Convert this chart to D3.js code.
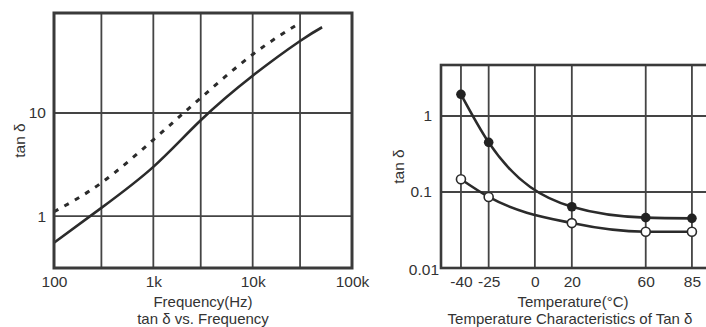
<!DOCTYPE html>
<html>
<head>
<meta charset="utf-8">
<script src="https://cdn.jsdelivr.net/npm/d3@7"></script>
<style>
  body { margin: 0; background: #fff; }
  svg { display: block; font-family: "Liberation Sans", Arial, sans-serif; }
</style>
</head>
<body>
<div id="chart"></div>
<script>
// tan δ vs frequency
const freqTicks = [100, 1000, 10000, 100000];
const freqTickLabels = ["100", "1k", "10k", "100k"];
const freqGrid = [300, 1000, 3000, 10000, 30000];
const tanTicksLeft = [1, 10];
const solidFreq = [100, 300, 1000, 3000, 10000, 30000, 50000];
const solidTan = [0.55, 1.2, 3.0, 8.5, 23, 50, 68];
const dashedFreq = [100, 300, 1000, 3000, 10000, 30000];
const dashedTan = [1.1, 2.1, 5.5, 14, 37, 75];

// tan δ vs temperature
const tempTicks = [-40, -25, 0, 20, 60, 85];
const tanTicksRight = [0.01, 0.1, 1];
const tanGridRight = [0.1, 1];
const temps = [-40, -25, 20, 60, 85];
const filledTan = [1.93, 0.45, 0.064, 0.046, 0.045];
const openTan = [0.147, 0.086, 0.039, 0.030, 0.030];

const W = 706, H = 327;
const ink = "#2b2b2b", textCol = "#333";
const tickSize = "15.5px", labelSize = "15px";

const svg = d3.select("#chart").append("svg")
    .attr("width", W).attr("height", H);
svg.append("rect").attr("width", W).attr("height", H).attr("fill", "#fff");

// ---------- left chart ----------
const L = {left: 54, right: 352, top: 13, bottom: 268};
const xF = d3.scaleLog().domain([100, 100000]).range([L.left, L.right]);
const yF = d3.scaleLog().domain([0.313, 93.5]).range([L.bottom, L.top]);

const gL = svg.append("g");
gL.selectAll("line.vx").data(freqGrid).join("line")
    .attr("x1", d => xF(d)).attr("x2", d => xF(d))
    .attr("y1", L.top).attr("y2", L.bottom)
    .attr("stroke", "#444").attr("stroke-width", 1.8);
gL.selectAll("line.hy").data(tanTicksLeft).join("line")
    .attr("x1", L.left).attr("x2", L.right)
    .attr("y1", d => yF(d)).attr("y2", d => yF(d))
    .attr("stroke", "#444").attr("stroke-width", 1.8);

const lineF = d3.line().curve(d3.curveNatural)
    .x(d => xF(d[0])).y(d => yF(d[1]));

gL.append("path")
    .attr("d", lineF(d3.zip(solidFreq, solidTan)))
    .attr("fill", "none").attr("stroke", ink).attr("stroke-width", 2.6);
gL.append("path")
    .attr("d", lineF(d3.zip(dashedFreq, dashedTan)))
    .attr("fill", "none").attr("stroke", ink).attr("stroke-width", 3)
    .attr("stroke-dasharray", "5,7");

gL.append("rect")
    .attr("x", L.left).attr("y", L.top)
    .attr("width", L.right - L.left).attr("height", L.bottom - L.top)
    .attr("fill", "none").attr("stroke", "#3a3a3a").attr("stroke-width", 3);

const axXL = gL.append("g").attr("transform", `translate(0,${L.bottom})`)
    .call(d3.axisBottom(xF).tickValues(freqTicks).tickSize(0).tickPadding(8)
        .tickFormat((d, i) => freqTickLabels[i]));
const axYL = gL.append("g").attr("transform", `translate(${L.left},0)`)
    .call(d3.axisLeft(yF).tickValues(tanTicksLeft).tickSize(0).tickPadding(8)
        .tickFormat(d => String(d)));
[axXL, axYL].forEach(a => {
    a.select(".domain").remove();
    a.selectAll("text").attr("fill", textCol).style("font-size", tickSize)
        .style("font-family", "'Liberation Sans', Arial, sans-serif");
});

gL.append("text").attr("x", (L.left + L.right) / 2).attr("y", 306.5)
    .attr("text-anchor", "middle").attr("fill", textCol).style("font-size", labelSize)
    .text("Frequency(Hz)");
gL.append("text").attr("x", (L.left + L.right) / 2).attr("y", 323.5)
    .attr("text-anchor", "middle").attr("fill", textCol).style("font-size", labelSize)
    .text("tan δ vs. Frequency");
gL.append("text").attr("transform", `translate(25,${(L.top + L.bottom) / 2}) rotate(-90)`)
    .attr("text-anchor", "middle").attr("fill", textCol).style("font-size", tickSize)
    .text("tan δ");

// ---------- right chart ----------
const R = {left: 441, right: 708, top: 65, bottom: 268};
const xT = d3.scaleLinear().domain([-50.8, 93.7]).range([R.left, R.right]);
const yT = d3.scaleLog().domain([0.01, 4.69]).range([R.bottom, R.top]);

const gR = svg.append("g");
gR.selectAll("line.vx").data(tempTicks).join("line")
    .attr("x1", d => xT(d)).attr("x2", d => xT(d))
    .attr("y1", R.top).attr("y2", R.bottom)
    .attr("stroke", "#444").attr("stroke-width", 1.8);
gR.selectAll("line.hy").data(tanGridRight).join("line")
    .attr("x1", R.left).attr("x2", R.right)
    .attr("y1", d => yT(d)).attr("y2", d => yT(d))
    .attr("stroke", "#444").attr("stroke-width", 1.8);

const lineT = d3.line().curve(d3.curveMonotoneX)
    .x(d => xT(d[0])).y(d => yT(d[1]));

gR.append("path")
    .attr("d", lineT(d3.zip(temps, filledTan)))
    .attr("fill", "none").attr("stroke", ink).attr("stroke-width", 2.6);
gR.append("path")
    .attr("d", lineT(d3.zip(temps, openTan)))
    .attr("fill", "none").attr("stroke", ink).attr("stroke-width", 2.6);

gR.selectAll("circle.f").data(d3.zip(temps, filledTan)).join("circle")
    .attr("cx", d => xT(d[0])).attr("cy", d => yT(d[1])).attr("r", 4.8)
    .attr("fill", "#222");
gR.selectAll("circle.o").data(d3.zip(temps, openTan)).join("circle")
    .attr("cx", d => xT(d[0])).attr("cy", d => yT(d[1])).attr("r", 4.5)
    .attr("fill", "#fff").attr("stroke", ink).attr("stroke-width", 1.6);

gR.append("rect")
    .attr("x", R.left).attr("y", R.top)
    .attr("width", R.right - R.left).attr("height", R.bottom - R.top)
    .attr("fill", "none").attr("stroke", "#3a3a3a").attr("stroke-width", 2.6);

const axXR = gR.append("g").attr("transform", `translate(0,${R.bottom})`)
    .call(d3.axisBottom(xT).tickValues(tempTicks).tickSize(0).tickPadding(8)
        .tickFormat(d => String(d)));
const axYR = gR.append("g").attr("transform", `translate(${R.left},0)`)
    .call(d3.axisLeft(yT).tickValues(tanTicksRight).tickSize(0).tickPadding(9)
        .tickFormat(d => String(d)));
[axXR, axYR].forEach(a => {
    a.select(".domain").remove();
    a.selectAll("text").attr("fill", textCol).style("font-size", tickSize)
        .style("font-family", "'Liberation Sans', Arial, sans-serif");
});
// the 0.01 label sits tucked into the corner
axYR.selectAll(".tick").filter(d => d === 0.01).select("text")
    .attr("x", -2).attr("dy", "0.45em");

gR.append("text").attr("x", 573).attr("y", 306.5)
    .attr("text-anchor", "middle").attr("fill", textCol).style("font-size", labelSize)
    .text("Temperature(°C)");
gR.append("text").attr("x", 570).attr("y", 323.5)
    .attr("text-anchor", "middle").attr("fill", textCol).style("font-size", labelSize)
    .text("Temperature Characteristics of Tan δ");
gR.append("text").attr("transform", `translate(404,${(R.top + R.bottom) / 2}) rotate(-90)`)
    .attr("text-anchor", "middle").attr("fill", textCol).style("font-size", tickSize)
    .text("tan δ");
</script>
</body>
</html>
